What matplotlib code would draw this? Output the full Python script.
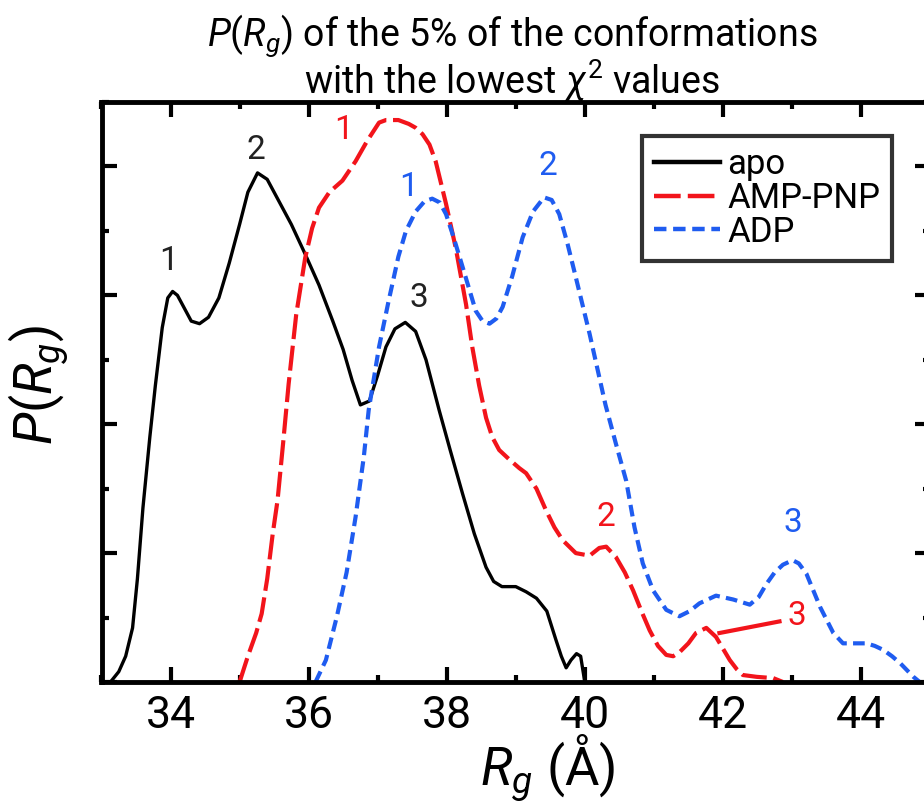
import numpy as np
import matplotlib
matplotlib.use("Agg")
import matplotlib.pyplot as plt
from matplotlib.ticker import MultipleLocator, NullFormatter

plt.rcParams['font.family'] = ['Roboto', 'DejaVu Sans']
plt.rcParams['mathtext.fontset'] = 'custom'
plt.rcParams['mathtext.rm'] = 'Roboto'
plt.rcParams['mathtext.it'] = 'Roboto:italic'
plt.rcParams['mathtext.bf'] = 'Roboto:bold'

# apo (black, solid)
apo_x = [33.13, 33.25, 33.35, 33.45, 33.52, 33.6, 33.7, 33.78, 33.88, 33.96, 34.03, 34.1, 34.2,
         34.3, 34.42, 34.55, 34.7, 34.85, 35.0, 35.12, 35.26, 35.4, 35.55, 35.75, 35.95, 36.15,
         36.35, 36.5, 36.63, 36.75, 36.88, 37.0, 37.12, 37.25, 37.4, 37.55, 37.7, 37.89, 38.05,
         38.23, 38.4, 38.57, 38.68, 38.8, 39.0, 39.15, 39.3, 39.45, 39.58, 39.66, 39.73, 39.8,
         39.88, 39.94, 40.0]
apo_y = [0.0, 0.08, 0.2, 0.42, 0.8, 1.35, 1.9, 2.3, 2.75, 2.98, 3.03, 3.0, 2.9,
         2.8, 2.78, 2.83, 2.98, 3.25, 3.55, 3.8, 3.95, 3.9, 3.75, 3.55, 3.32, 3.08,
         2.8, 2.58, 2.34, 2.15, 2.18, 2.38, 2.6, 2.74, 2.79, 2.72, 2.5, 2.11, 1.8,
         1.46, 1.15, 0.89, 0.78, 0.74, 0.74, 0.7, 0.65, 0.55, 0.33, 0.2, 0.11, 0.17,
         0.22, 0.2, 0.0]

# AMP-PNP (red, long dashes)
amp_x = [35.0, 35.12, 35.24, 35.32, 35.4, 35.48, 35.55, 35.63, 35.71, 35.82, 35.95, 36.05, 36.15,
         36.3, 36.49, 36.68, 36.85, 37.02, 37.12, 37.3, 37.45, 37.55, 37.65, 37.75, 37.84, 37.99,
         38.13, 38.28, 38.37, 38.47, 38.57, 38.66, 38.76, 38.9, 39.05, 39.15, 39.3, 39.44, 39.56,
         39.68, 39.87, 40.07, 40.21, 40.31, 40.45, 40.58, 40.7, 40.82, 40.94, 41.06, 41.18, 41.28,
         41.37, 41.5, 41.61, 41.76, 41.9, 42.0, 42.1, 42.2, 42.29, 42.49, 42.73, 42.87]
amp_y = [0.0, 0.2, 0.38, 0.53, 0.8, 1.15, 1.41, 1.85, 2.31, 2.85, 3.29, 3.52, 3.68,
         3.8, 3.89, 4.04, 4.2, 4.34, 4.36, 4.36, 4.33, 4.3, 4.25, 4.17, 4.04, 3.71,
         3.37, 2.93, 2.6, 2.3, 2.05, 1.9, 1.8, 1.73, 1.66, 1.62, 1.5, 1.33, 1.2,
         1.1, 1.0, 0.98, 1.04, 1.05, 0.97, 0.85, 0.71, 0.55, 0.4, 0.28, 0.21, 0.2,
         0.23, 0.3, 0.38, 0.42, 0.35, 0.26, 0.17, 0.1, 0.054, 0.04, 0.03, 0.0]

# ADP (blue, short dashes)
adp_x = [36.1, 36.25, 36.41, 36.55, 36.68, 36.8, 36.87, 37.02, 37.16, 37.3, 37.41, 37.55, 37.68,
         37.79, 37.9, 37.99, 38.1, 38.23, 38.42, 38.52, 38.62, 38.72, 38.81, 38.95, 39.1, 39.25,
         39.41, 39.52, 39.63, 39.75, 39.87, 40.07, 40.3, 40.45, 40.6, 40.72, 40.84, 40.99, 41.18,
         41.37, 41.52, 41.66, 41.9, 42.15, 42.39, 42.52, 42.63, 42.75, 42.87, 43.01, 43.1, 43.21,
         43.41, 43.6, 43.74, 43.9, 44.08, 44.2, 44.32, 44.45, 44.57, 44.76, 44.85]
adp_y = [0.0, 0.17, 0.51, 0.85, 1.28, 1.75, 2.11, 2.6, 2.96, 3.3, 3.5, 3.65, 3.73,
         3.75, 3.72, 3.63, 3.45, 3.22, 2.88, 2.8, 2.78, 2.82, 2.91, 3.15, 3.45, 3.65,
         3.76, 3.74, 3.63, 3.4, 3.14, 2.7, 2.15, 1.85, 1.56, 1.2, 0.92, 0.71, 0.56,
         0.51, 0.55, 0.61, 0.67, 0.64, 0.6, 0.66, 0.76, 0.85, 0.91, 0.945, 0.92, 0.84,
         0.58, 0.38, 0.3, 0.3, 0.3, 0.28, 0.25, 0.2, 0.145, 0.04, 0.0]

# peak labels: (x, y, text)
apo_peaks = [(33.97, 3.27, '1'), (35.23, 4.13, '2'), (37.60, 2.98, '3')]
amp_peaks = [(36.50, 4.28, '1'), (40.31, 1.28, '2'), (43.07, 0.51, '3')]
adp_peaks = [(37.45, 3.84, '1'), (39.46, 4.0, '2'), (43.01, 1.23, '3')]
amp3_pointer_x = [41.95, 42.82]
amp3_pointer_y = [0.38, 0.47]

RED = '#f2141b'
BLUE = '#1f5cf0'

fig = plt.figure(figsize=(9.24, 8.09), dpi=100)
ax = fig.add_axes([101.5 / 924, 127 / 809, 828.5 / 924, 580 / 809])

ax.plot(apo_x, apo_y, color='black', lw=2.4, label='apo', solid_joinstyle='round')
ax.plot(amp_x, amp_y, color=RED, lw=3, dashes=(6, 1.6), label='AMP-PNP')
ax.plot(adp_x, adp_y, color=BLUE, lw=3, dashes=(2.8, 1.5), label='ADP')
ax.plot(amp3_pointer_x, amp3_pointer_y, color=RED, lw=3)

for px, py, t in apo_peaks:
    ax.text(px, py, t, color='#222222', fontsize=24, ha='center', va='center')
for px, py, t in amp_peaks:
    ax.text(px, py, t, color=RED, fontsize=24, ha='center', va='center')
for px, py, t in adp_peaks:
    ax.text(px, py, t, color=BLUE, fontsize=24, ha='center', va='center')

ax.set_xlim(33, 45)
ax.set_ylim(0, 4.5)
ax.xaxis.set_major_locator(MultipleLocator(2))
ax.xaxis.set_minor_locator(MultipleLocator(1))
ax.yaxis.set_major_locator(MultipleLocator(1))
ax.yaxis.set_minor_locator(MultipleLocator(0.5))
ax.yaxis.set_major_formatter(NullFormatter())
ax.tick_params(which='both', direction='in', top=True, right=True, width=3)
ax.tick_params(which='major', length=11, labelsize=32, pad=9)
ax.tick_params(which='minor', length=5)
for s in ax.spines.values():
    s.set_linewidth(3.5)

leg = ax.legend(loc='upper left', bbox_to_anchor=(642 / 924, 1 - 136 / 809),
                bbox_transform=fig.transFigure, fontsize=25, frameon=True,
                fancybox=False, edgecolor='black', handlelength=1.9,
                handletextpad=0.2, labelspacing=0.02, borderpad=0.35,
                borderaxespad=0)
leg.get_frame().set_linewidth(3)
for h in leg.get_lines():
    h.set_linewidth(3.2)

fig.text(512 / 924, 1 - 58 / 809,
         '$P(R_g)$ of the 5% of the conformations\nwith the lowest $\\chi^2$ values',
         ha='center', va='center', fontsize=27, linespacing=0.95)
fig.text(38 / 924, 1 - 385 / 809, '$P(R_g)$', rotation=90, ha='center', va='center',
         fontsize=38)
fig.text(548 / 924, 1 - 768 / 809, '$R_g$ (Å)', ha='center', va='center', fontsize=38)

fig.savefig('out.png', dpi=100)
